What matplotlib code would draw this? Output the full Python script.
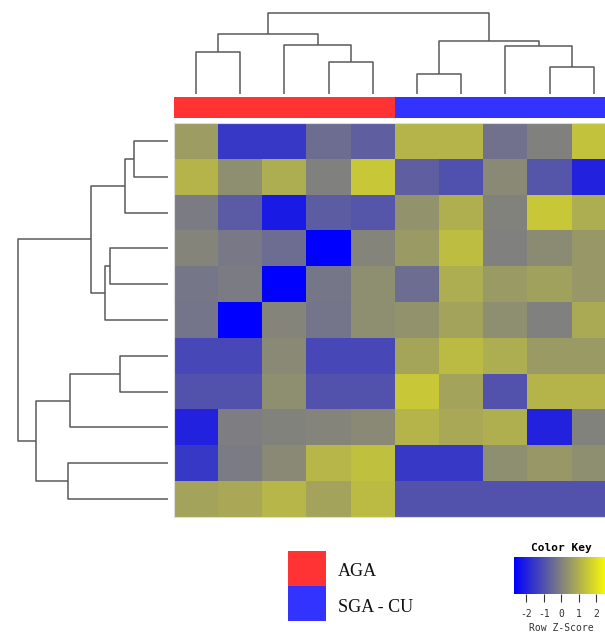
import numpy as np
import matplotlib
matplotlib.use("Agg")
import matplotlib.pyplot as plt
from matplotlib.colors import LinearSegmentedColormap

W, H, DPI = 605, 635, 100

# row z-scores, rows top->bottom, columns left->right (dendrogram order)
z = np.array([
    [0.6, -1.5, -1.5, -0.4, -0.7, 1.1, 1.1, -0.3, 0.0, 1.4],
    [1.1, 0.3, 0.95, 0.0, 1.5, -0.7, -1.0, 0.2, -0.9, -2.0],
    [-0.1, -0.8, -2.15, -0.75, -0.9, 0.4, 1.0, 0.05, 1.5, 0.95],
    [0.1, -0.15, -0.4, -2.7, 0.1, 0.55, 1.3, 0.0, 0.25, 0.5],
    [-0.2, -0.1, -2.7, -0.2, 0.3, -0.4, 0.95, 0.55, 0.7, 0.5],
    [-0.25, -2.7, 0.1, -0.25, 0.3, 0.4, 0.75, 0.3, 0.0, 0.9],
    [-1.2, -1.2, 0.2, -1.2, -1.2, 0.8, 1.25, 0.95, 0.55, 0.55],
    [-0.95, -0.95, 0.3, -0.95, -0.95, 1.5, 0.75, -0.95, 1.1, 1.1],
    [-2.0, -0.05, 0.05, 0.1, 0.2, 1.1, 0.85, 1.0, -2.0, 0.05],
    [-1.5, -0.1, 0.2, 1.15, 1.35, -1.5, -1.5, 0.3, 0.5, 0.3],
    [0.75, 0.85, 1.15, 0.75, 1.25, -0.95, -0.95, -0.95, -0.95, -0.95],
])
groups = ["AGA"] * 5 + ["SGA - CU"] * 5
group_colors = {"AGA": "#FF3333", "SGA - CU": "#3333FF"}

# linkage (scipy-style ids: leaves 0..n-1, new nodes n, n+1, ...)
col_link = [(0, 1, 42.3), (3, 4, 32.3), (2, 11, 49.0), (10, 12, 59.7),
            (5, 6, 20.0), (8, 9, 27.3), (7, 15, 48.3), (14, 16, 53.3),
            (13, 17, 81.3)]
row_link = [(0, 1, 33.7), (11, 2, 42.4), (3, 4, 58.0), (13, 5, 62.4),
            (12, 14, 77.0), (6, 7, 47.7), (16, 8, 97.7), (9, 10, 100.0),
            (17, 18, 131.4), (15, 19, 150.0)]

key_ticks = [-2, -1, 0, 1, 2]
cmap = LinearSegmentedColormap.from_list("bgy", ["#0000FF", "#808080", "#FFFF00"])
LINE = "#5a5a5a"


def px(x0, y0, x1, y1):
    return [x0 / W, 1 - y1 / H, (x1 - x0) / W, (y1 - y0) / H]


def draw_dendro(ax, link, n, horizontal=False):
    pos = {i: float(i) for i in range(n)}
    hgt = {i: 0.0 for i in range(n)}
    for k, (a, b, h) in enumerate(link):
        xs = [pos[a], pos[a], pos[b], pos[b]]
        ys = [hgt[a], h, h, hgt[b]]
        if horizontal:
            ax.plot(ys, xs, color=LINE, lw=1.1, solid_capstyle="butt")
        else:
            ax.plot(xs, ys, color=LINE, lw=1.1, solid_capstyle="butt")
        pos[n + k] = (pos[a] + pos[b]) / 2
        hgt[n + k] = h
    ax.axis("off")


fig = plt.figure(figsize=(W / DPI, H / DPI), dpi=DPI)
fig.patch.set_facecolor("white")

# heatmap (last column runs past the right edge, as in the original)
ax_hm = fig.add_axes(px(174, 123, 616, 517))
ax_hm.imshow(z, cmap=cmap, vmin=-2.7, vmax=2.7, aspect="auto",
             interpolation="nearest")
ax_hm.set_xticks([])
ax_hm.set_yticks([])
for s in ax_hm.spines.values():
    s.set_color("#dddddd")

# column side colours
ax_cs = fig.add_axes(px(174, 97, 616, 118))
ax_cs.imshow([[matplotlib.colors.to_rgb(group_colors[g]) for g in groups]],
             aspect="auto", interpolation="nearest")
ax_cs.axis("off")

# column dendrogram
ax_cd = fig.add_axes(px(174, 5, 616, 94))
draw_dendro(ax_cd, col_link, z.shape[1])
ax_cd.set_xlim(-0.5, 9.5)
ax_cd.set_ylim(0, 89)

# row dendrogram
ax_rd = fig.add_axes(px(5, 123, 167.7, 517))
draw_dendro(ax_rd, row_link, z.shape[0], horizontal=True)
ax_rd.set_xlim(162.7, 0)
ax_rd.set_ylim(10.5, -0.5)

# group legend
for i, g in enumerate(["AGA", "SGA - CU"]):
    y0 = 551 + i * 35
    fig.patches.append(plt.Rectangle((288 / W, 1 - (y0 + 35) / H), 38 / W, 35 / H,
                                     transform=fig.transFigure,
                                     facecolor=group_colors[g], edgecolor="none"))
    fig.text(338 / W, 1 - (y0 + 21) / H, g, family="Liberation Serif",
             fontsize=13, va="center", ha="left", color="#111111")

# color key
ax_k = fig.add_axes(px(514.3, 557, 608.3, 594))
grad = np.linspace(-2.7, 2.7, 256)[None, :]
ax_k.imshow(grad, cmap=cmap, vmin=-2.7, vmax=2.7, aspect="auto",
            extent=[-2.7, 2.7, 0, 1])
ax_k.set_yticks([])
ax_k.set_xticks(key_ticks)
ax_k.set_xticklabels([str(t) for t in key_ticks], family="DejaVu Sans Mono",
                     fontsize=7, color="#333333")
ax_k.tick_params(axis="x", length=6, width=0.8, pad=5, color="#333333")
for s in ax_k.spines.values():
    s.set_visible(False)
ax_k.set_title("Color Key", family="DejaVu Sans Mono", fontweight="bold",
               fontsize=8, pad=4)
fig.text(561 / W, 1 - 628 / H, "Row Z-Score", family="DejaVu Sans Mono",
         fontsize=7, color="#333333", ha="center", va="center")

fig.savefig("out.png", dpi=DPI, facecolor="white")
